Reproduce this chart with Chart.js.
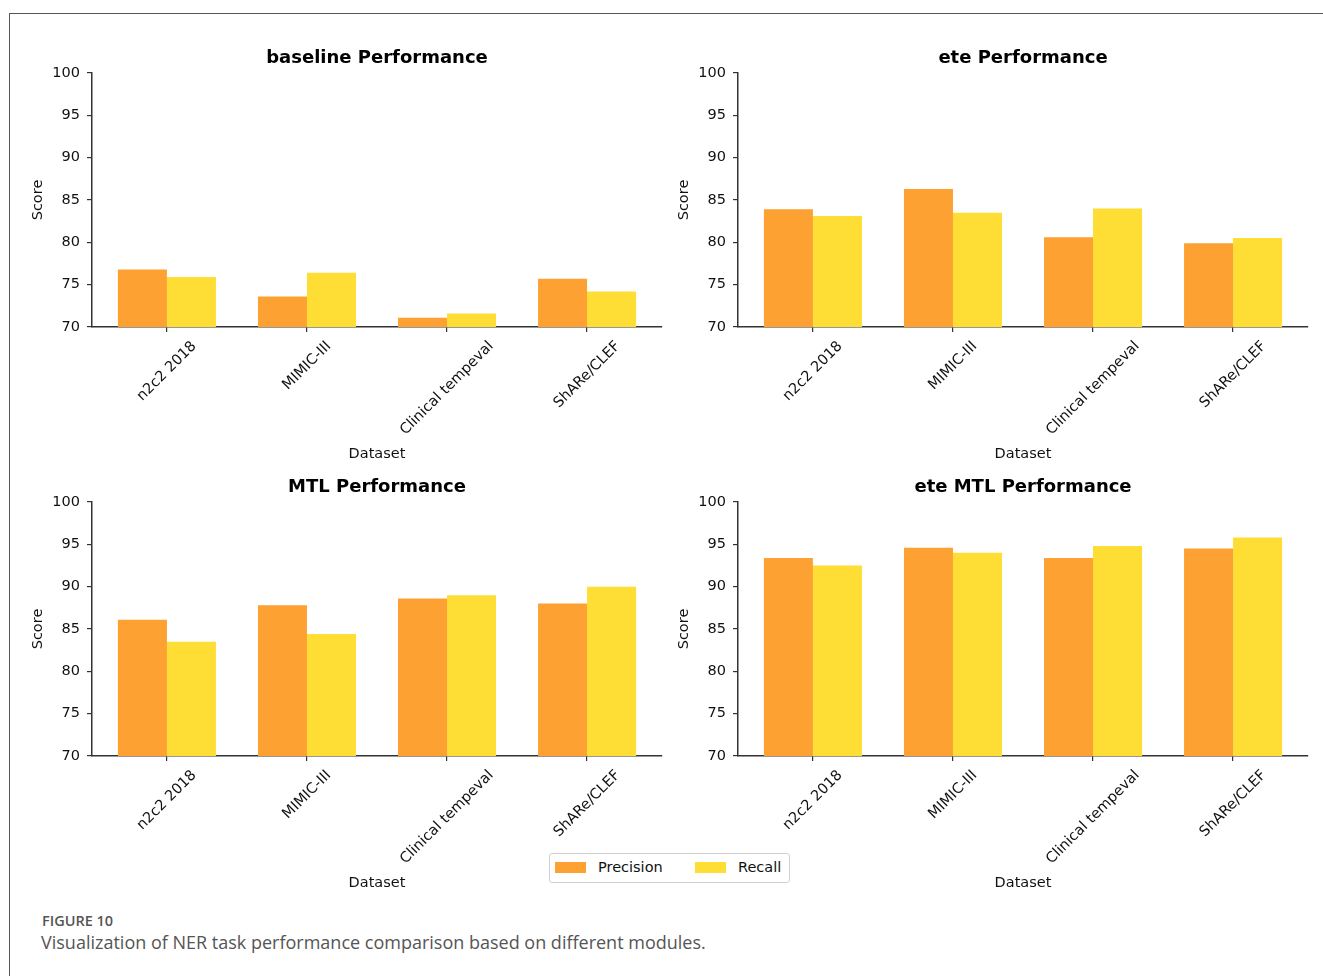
<!DOCTYPE html>
<html>
<head>
<meta charset="utf-8">
<script src="https://cdn.jsdelivr.net/npm/chart.js@4.4.1/dist/chart.umd.min.js"></script>
<style>
  body { margin: 0; background: #fff; width: 1323px; height: 976px; overflow: hidden; position: relative; font-family: "DejaVu Sans", sans-serif; }
  .frame { position: absolute; left: 9px; top: 13px; width: 1400px; height: 1000px; border-top: 1.5px solid #555; border-left: 1.5px solid #555; }
  canvas { position: absolute; }
  .legend { position: absolute; left: 549px; top: 853px; width: 239px; height: 28px; border: 1px solid #d0d0d0; border-radius: 3px; background: #fff; font-size: 14.5px; color: #111; }
  .legend .patch { position: absolute; top: 8px; width: 31px; height: 11px; }
  .legend .lbl { position: absolute; top: 5px; }
  .cap1 { position: absolute; left: 42px; top: 911px; font-family: "Open Sans", sans-serif; font-weight: 600; font-size: 14.5px; color: #555; }
  .cap2 { position: absolute; left: 41px; top: 930px; font-family: "Open Sans", sans-serif; font-size: 18px; color: #555; }
</style>
</head>
<body>
<div class="frame"></div>
<canvas id="c0" width="652" height="445" style="left:20px;top:30px"></canvas>
<canvas id="c1" width="652" height="445" style="left:666px;top:30px"></canvas>
<canvas id="c2" width="652" height="445" style="left:20px;top:459px"></canvas>
<canvas id="c3" width="652" height="445" style="left:666px;top:459px"></canvas>

<div class="legend">
  <div class="patch" style="left:5px;background:#FDA132"></div>
  <div class="lbl" style="left:48px">Precision</div>
  <div class="patch" style="left:145px;background:#FEDE34"></div>
  <div class="lbl" style="left:188px">Recall</div>
</div>
<div class="cap1">FIGURE 10</div>
<div class="cap2">Visualization of NER task performance comparison based on different modules.</div>

<script>
const datasets = ['n2c2 2018', 'MIMIC-III', 'Clinical tempeval', 'ShARe/CLEF'];
const yTicks = [70, 75, 80, 85, 90, 95, 100];

const panelTitles = ['baseline Performance', 'ete Performance', 'MTL Performance', 'ete MTL Performance'];

const baselinePrecision = [76.8, 73.6, 71.1, 75.7];
const baselineRecall    = [75.9, 76.4, 71.6, 74.2];
const etePrecision      = [83.9, 86.3, 80.6, 79.9];
const eteRecall         = [83.1, 83.5, 84.0, 80.5];
const mtlPrecision      = [86.1, 87.8, 88.6, 88.0];
const mtlRecall         = [83.5, 84.4, 89.0, 90.0];
const eteMtlPrecision   = [93.4, 94.6, 93.4, 94.5];
const eteMtlRecall      = [92.5, 94.0, 94.8, 95.8];

const panels = [
    [baselinePrecision, baselineRecall],
    [etePrecision, eteRecall],
    [mtlPrecision, mtlRecall],
    [eteMtlPrecision, eteMtlRecall]
];

const ORANGE = '#FDA132';
const YELLOW = '#FEDE34';
const AXIS = '#333';
const TXT = '#111';
const FONT = '"DejaVu Sans", sans-serif';

// titles, axis labels and the rotated category labels
const textPlugin = {
    id: 'panelText',
    afterDraw(chart) {
        const ctx = chart.ctx;
        const a = chart.chartArea;
        const cx = (a.left + a.right) / 2;
        ctx.save();
        ctx.fillStyle = '#000';
        ctx.font = 'bold 18px ' + FONT;
        ctx.textAlign = 'center';
        ctx.textBaseline = 'alphabetic';
        ctx.fillText(chart.options.plugins.panelText.title, cx, a.top - 10);

        ctx.fillStyle = TXT;
        ctx.font = '14.5px ' + FONT;
        ctx.textBaseline = 'middle';
        ctx.fillText('Dataset', cx, a.bottom + 127);

        ctx.save();
        ctx.translate(a.left - 54, (a.top + a.bottom) / 2);
        ctx.rotate(-Math.PI / 2);
        ctx.fillText('Score', 0, 0);
        ctx.restore();

        const xs = chart.scales.x;
        const h = 17;
        datasets.forEach(function (name, i) {
            const px = xs.getPixelForValue(i);
            const L = ctx.measureText(name).width;
            const half = (L + h) * Math.SQRT1_2 / 2;
            ctx.save();
            ctx.translate(px, a.bottom + 11 + half);
            ctx.rotate(-Math.PI / 4);
            ctx.fillText(name, 0, 0);
            ctx.restore();
        });
        ctx.restore();
    }
};

panels.forEach(function (series, k) {
    new Chart(document.getElementById('c' + k), {
        type: 'bar',
        data: {
            datasets: [
                { label: 'Precision', data: series[0].map((v, i) => ({ x: i, y: v })), backgroundColor: ORANGE },
                { label: 'Recall', data: series[1].map((v, i) => ({ x: i, y: v })), backgroundColor: YELLOW }
            ]
        },
        options: {
            responsive: false,
            animation: false,
            layout: { padding: { left: 0, top: 43, right: 10, bottom: 0 } },
            datasets: { bar: { categoryPercentage: 0.7, barPercentage: 1.0, borderWidth: 0 } },
            plugins: {
                legend: { display: false },
                tooltip: { enabled: false },
                panelText: { title: panelTitles[k] }
            },
            scales: {
                x: {
                    type: 'linear',
                    min: -0.535,
                    max: 3.535,
                    offset: false,
                    afterBuildTicks: function (scale) {
                        scale.ticks = datasets.map((_, i) => ({ value: i }));
                    },
                    afterFit: function (scale) { scale.height = 148; },
                    ticks: { display: false },
                    grid: { offset: false, drawOnChartArea: false, drawTicks: true, tickLength: 5, color: AXIS, lineWidth: 1.2 },
                    border: { display: true, color: AXIS, width: 1.5 }
                },
                y: {
                    min: 70,
                    max: 100,
                    afterBuildTicks: function (scale) {
                        scale.ticks = yTicks.map(v => ({ value: v }));
                    },
                    afterFit: function (scale) { scale.width = 72; },
                    ticks: { color: TXT, font: { family: FONT, size: 14.5 }, padding: 7 },
                    grid: { drawOnChartArea: false, drawTicks: true, tickLength: 5, color: AXIS, lineWidth: 1.2 },
                    border: { display: true, color: AXIS, width: 1.5 }
                }
            }
        },
        plugins: [textPlugin]
    });
});
</script>
</body>
</html>
